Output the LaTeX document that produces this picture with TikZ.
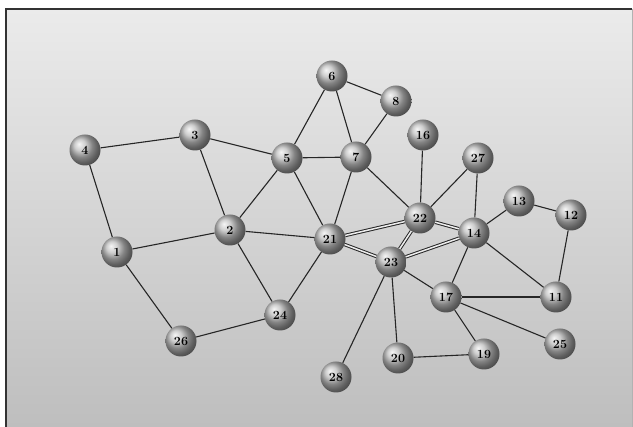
\documentclass[tikz,border=0pt]{standalone}
\usetikzlibrary{shadings}
\definecolor{bgtop}{HTML}{EBEBEB}
\definecolor{bgbot}{HTML}{BEBEBE}
\definecolor{ballc}{HTML}{BDBDBD}
\tikzset{
  vtx/.style={circle, minimum size=31pt, inner sep=0pt, shading=ball, ball color=ballc,
    font=\fontsize{12.5}{12.5}\selectfont\bfseries},
  edge/.style={line width=1.1pt, black!85},
  dbl/.style={double=bgtop!90, double distance=1.5pt, line width=1pt, black!85}
}
\begin{document}
\begin{tikzpicture}[x=1pt,y=-1pt]
\useasboundingbox (0,0) rectangle (633,427);
\fill[white] (0,0) rectangle (633,427);
\shade[top color=bgtop, bottom color=bgbot] (6,9) rectangle (632,427);
\draw[line width=1.4pt, black!80] (6,427) -- (6,9) -- (632,9);
\draw[line width=0.4pt, black!30] (632,9) -- (632,427);
% nodes
\node[vtx] (n4) at (85,150) {4};
\node[vtx] (n3) at (195,135) {3};
\node[vtx] (n5) at (287,158) {5};
\node[vtx] (n7) at (356,157) {7};
\node[vtx] (n6) at (332,76) {6};
\node[vtx] (n8) at (396,101) {8};
\node[vtx] (n16) at (423,135) {16};
\node[vtx] (n27) at (478,158) {27};
\node[vtx] (n1) at (117,252) {1};
\node[vtx] (n2) at (230,230) {2};
\node[vtx] (n21) at (330,239) {21};
\node[vtx] (n22) at (420,218) {22};
\node[vtx] (n14) at (474,233) {14};
\node[vtx] (n13) at (519,201) {13};
\node[vtx] (n12) at (571,215) {12};
\node[vtx] (n23) at (391,262) {23};
\node[vtx] (n17) at (446,297) {17};
\node[vtx] (n11) at (556,297) {11};
\node[vtx] (n24) at (280,315) {24};
\node[vtx] (n26) at (181,341) {26};
\node[vtx] (n28) at (336,377) {28};
\node[vtx] (n20) at (398,358) {20};
\node[vtx] (n19) at (484,354) {19};
\node[vtx] (n25) at (560,344) {25};
% edges
\foreach \a/\b in {4/3, 4/1, 3/5, 3/2, 5/6, 5/7, 5/2, 5/21, 6/7, 6/8, 8/7, 7/21, 7/22,
  1/2, 1/26, 2/21, 2/24, 24/26, 24/21, 16/22, 27/22, 27/14, 13/14, 13/12, 12/11,
  14/11, 14/17, 23/17, 23/28, 23/20, 17/11, 17/19, 17/25, 20/19}
  \draw[edge] (n\a) -- (n\b);
\foreach \a/\b in {21/22, 21/23, 22/23, 22/14, 23/14}
  \draw[dbl] (n\a) -- (n\b);
\end{tikzpicture}
\end{document}
